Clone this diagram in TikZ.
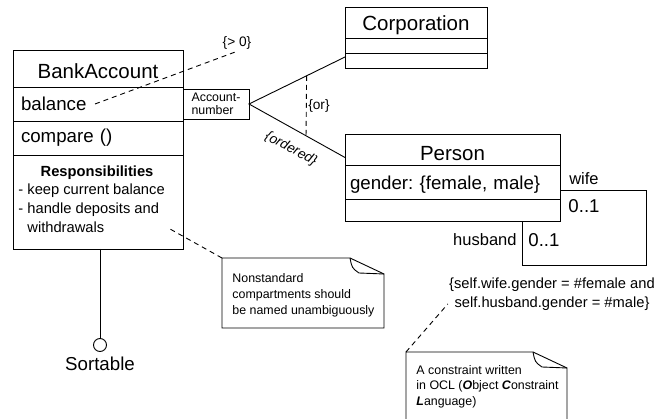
\documentclass[tikz,border=0pt]{standalone}
\usepackage{fontspec}
\setmainfont{Liberation Sans}
\usepackage{tikz}
\usetikzlibrary{positioning,calc}
\frenchspacing

\newcommand{\dogear}[1]{%
    \draw (#1.north west) -- ([xshift=-34pt]#1.north east) -- ([yshift=-16pt]#1.north east) -- (#1.south east) -- (#1.south west) -- cycle;
    \draw ([xshift=-34pt]#1.north east) .. controls ([xshift=-32pt,yshift=-10pt]#1.north east) .. ([xshift=-25pt,yshift=-15pt]#1.north east) -- ([yshift=-16pt]#1.north east);
}

\begin{document}
\begin{tikzpicture}[x=1pt,y=-1pt,line width=.9pt,
    slot/.style={draw,rectangle,inner sep=0pt,outer sep=0pt,minimum width=#1},
    left slot/.style={draw,rectangle,outer sep=0pt,inner ysep=0pt,inner xsep=8pt,text width=#1,align=left},
    classname/.style={font=\fontsize{20.5}{24}\selectfont,text depth=0pt},
    attr/.style={font=\fontsize{18.7}{22}\selectfont},
    resptext/.style={font=\fontsize{14.7}{19.3}\selectfont},
    notetext/.style={font=\fontsize{12.4}{16}\selectfont,align=left,anchor=north west,inner sep=0pt},
    constr/.style={font=\fontsize{13.7}{16}\selectfont,inner sep=1.5pt},
    role/.style={font=\fontsize{16.5}{18}\selectfont,inner sep=1pt},
    mult/.style={font=\fontsize{18.6}{20}\selectfont,inner sep=1pt},
    dashline/.style={dash pattern=on 5pt off 4pt},
    notebox/.style={rectangle,inner sep=0pt,outer sep=0pt,minimum width=#1}]

    \useasboundingbox (0,0) rectangle (662,419);

    \node[slot=170pt,minimum height=37pt,classname,text height=21pt] (bankname) at (98,68.5) {BankAccount};
    \node[left slot=154pt,minimum height=34pt,attr,below=0pt of bankname] (bal) {balance};
    \node[left slot=154pt,minimum height=34pt,attr,below=0pt of bal] (cmp) {compare ()};
    \node[slot=170pt,minimum height=94pt,below=0pt of cmp] (resp) {};
    \node[resptext,font=\fontsize{14.7}{19.3}\selectfont\bfseries,anchor=base,inner sep=0pt] (resptitle) at (97,177) {Responsibilities};
    \node[resptext,align=left,anchor=north west,inner sep=0pt] (resplist) at (18,183) {- keep current balance\\- handle deposits and\\\phantom{- }withdrawals};

    \node[draw,rectangle,outer sep=0pt,inner sep=0pt,minimum width=66pt,minimum height=30pt,align=left,font=\fontsize{12.4}{13}\selectfont,right=0pt of bal] (acct) {Account-\\number};

    \node[slot=142pt,minimum height=31pt,classname,text height=17pt] (cname) at (416,22.5) {Corporation};
    \node[slot=142pt,minimum height=15pt,below=0pt of cname] (cattr) {};
    \node[slot=142pt,minimum height=15pt,below=0pt of cattr] (cops) {};

    \node[slot=215pt,minimum height=31pt,classname,text height=23pt] (pname) at (452.5,149.5) {Person};
    \node[left slot=205pt,inner xsep=5pt,minimum height=34pt,attr,text height=16pt,text depth=0pt,below=0pt of pname] (pgen) {gender: \{female, male\}};
    \node[slot=215pt,minimum height=22pt,below=0pt of pgen] (pops) {};

    \coordinate (corpend) at ([yshift=3.5pt]cops.west);
    \coordinate (persend) at ([yshift=-8pt]pname.west);
    \draw (corpend) -- (acct.east) -- (persend);
    \draw[dashline] ($(acct.east)!0.6!(corpend)$) -- ($(acct.east)!0.594!(persend)$) node[constr,midway,right] (orlbl) {\{or\}};
    \node[constr,font=\fontsize{13.7}{16}\selectfont\itshape,rotate=-28] (ordlbl) at (291,149) {\{ordered\}};

    \node[constr] (gtzero) at (237,43) {\{> 0\}};
    \draw[dashline] ([xshift=82pt]bal.west) -- (gtzero.south);

    \coordinate (wifeend) at ([yshift=-8.5pt]pgen.east);
    \coordinate (husbandend) at ([xshift=177pt]pops.south west);
    \coordinate (loopcorner) at (646,265);
    \draw (wifeend) -| (loopcorner) -| (husbandend);
    \node[role] (wifelbl) at (584,179) {wife};
    \node[mult] (wifemult) at (584,206.5) {0..1};
    \node[role,anchor=east] (husbandlbl) at (518,240) {husband};
    \node[mult,anchor=west] (husbandmult) at (527,240) {0..1};

    \node[resptext,align=center,font=\fontsize{14.7}{19}\selectfont,inner sep=1pt] (ocl) at (552,294) {\{self.wife.gender = \#female and\\self.husband.gender = \#male\}};

    \node[notebox=162pt,minimum height=70pt] (notestd) at (303,293) {};
    \dogear{notestd}
    \node[notetext] (notestdtxt) at ([xshift=10pt,yshift=-15pt]notestd.north west) {Nonstandard\\compartments should\\be named unambiguously};
    \draw[dashline] (notestd.north west) -- ([xshift=-13pt,yshift=20pt]resp.south east);

    \node[notebox=161pt,minimum height=80pt] (noteocl) at (486.5,392) {};
    \dogear{noteocl}
    \node[notetext,font=\fontsize{12.4}{15.5}\selectfont] (noteocltxt) at ([xshift=10pt,yshift=-13pt]noteocl.north west) {A constraint written\\in OCL (\textbf{\textit{O}}bject \textbf{\textit{C}}onstraint\\\textbf{\textit{L}}anguage)};
    \draw[dashline] (noteocl.north west) -- ([yshift=-10pt]ocl.west);

    \node[circle,draw,minimum size=13pt,inner sep=0pt] (sortif) at (100,345) {};
    \draw (resp.south -| sortif.north) -- (sortif.north);
    \node[attr,below=1pt of sortif] (sortlbl) {Sortable};
\end{tikzpicture}
\end{document}
